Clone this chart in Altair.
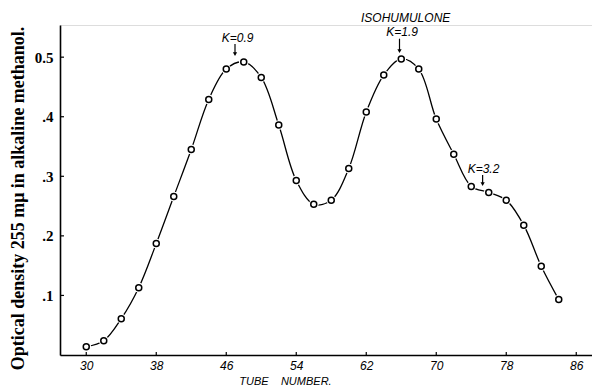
import altair as alt
import pandas as pd

# ---- data ----
tube = [30, 32, 34, 36, 38, 40, 42, 44, 46, 48, 50, 52, 54, 56,
        58, 60, 62, 64, 66, 68, 70, 72, 74, 76, 78, 80, 82, 84]
density = [0.014, 0.024, 0.061, 0.113, 0.187, 0.266, 0.345, 0.429, 0.480, 0.492,
           0.466, 0.386, 0.293, 0.253, 0.260, 0.313, 0.408, 0.470, 0.497, 0.480,
           0.396, 0.337, 0.283, 0.273, 0.260, 0.218, 0.149, 0.093]

x_ticks = [30, 38, 46, 54, 62, 70, 78, 86]
y_ticks = [0.1, 0.2, 0.3, 0.4, 0.5]

ann_text = ["K=0.9", "ISOHUMULONE", "K=1.9", "K=3.2"]
ann_x = [47.3, 66.5, 66.1, 75.4]
ann_y = [0.532, 0.566, 0.542, 0.313]

arrow_x = [47.0, 65.8, 75.3]
arrow_top = [0.522, 0.531, 0.302]
arrow_bot = [0.505, 0.510, 0.287]

df = pd.DataFrame({"tube": tube, "density": density})
ann = pd.DataFrame({"label": ann_text, "x": ann_x, "y": ann_y})
arr = pd.DataFrame({"x": arrow_x, "top": arrow_top, "bot": arrow_bot})
yt = pd.DataFrame({"v": y_ticks})
xt = pd.DataFrame({"v": x_ticks})

xs = alt.Scale(domain=[27.0, 87.8], nice=False, zero=False)
ys = alt.Scale(domain=[0, 0.554], nice=False)

x_axis = alt.Axis(
    values=x_ticks, title="TUBE\u00a0\u00a0\u00a0\u00a0NUMBER.", grid=False, tickSize=0,
    domainColor="black", domainWidth=1.6,
    labelFont="Liberation Sans", labelFontStyle="italic", labelFontSize=12,
    labelColor="black", labelPadding=5,
    titleFont="Liberation Sans", titleFontStyle="italic", titleFontWeight="normal",
    titleFontSize=11, titleColor="black", titleX=225, titleY=26,
    titleBaseline="middle", titleAlign="center",
)
y_axis = alt.Axis(
    values=y_ticks, title="Optical density 255 mμ in alkaline methanol.",
    grid=False, tickSize=0, domainColor="black", domainWidth=1.6,
    labelExpr="datum.value == 0.5 ? '0.5' : '.' + format(round(datum.value*10), 'd')",
    labelFont="Liberation Serif", labelFontSize=15, labelColor="black",
    labelPadding=7, labelFontWeight="bold",
    titleFont="Liberation Serif", titleFontWeight="bold", titleFontSize=18,
    titleColor="black", titleAngle=270, titleX=-42, titleY=173,
    titleBaseline="middle", titleAlign="center",
)

base = alt.Chart(df)

line = base.mark_line(color="black", strokeWidth=1.3, interpolate="catmull-rom").encode(
    x=alt.X("tube:Q", scale=xs, axis=x_axis),
    y=alt.Y("density:Q", scale=ys, axis=y_axis),
)
halo = base.mark_point(shape="circle", filled=True, color="white", size=95, opacity=1).encode(
    x=alt.X("tube:Q", scale=xs), y=alt.Y("density:Q", scale=ys)
)
pts = base.mark_point(shape="circle", filled=False, color="black", size=36,
                      strokeWidth=1.5, opacity=1).encode(
    x=alt.X("tube:Q", scale=xs), y=alt.Y("density:Q", scale=ys)
)

ytick = alt.Chart(yt).mark_rule(color="black", strokeWidth=1.2).encode(
    y=alt.Y("v:Q", scale=ys), x=alt.value(0), x2=alt.value(4)
)
xtick = alt.Chart(xt).mark_rule(color="black", strokeWidth=1.2).encode(
    x=alt.X("v:Q", scale=xs), y=alt.value(327), y2=alt.value(330)
)

texts = alt.Chart(ann).mark_text(
    font="Liberation Sans", fontStyle="italic", fontSize=12, color="black",
    baseline="middle", align="center"
).encode(x=alt.X("x:Q", scale=xs), y=alt.Y("y:Q", scale=ys), text="label:N")

arrow_line = alt.Chart(arr).mark_rule(color="black", strokeWidth=1.2).encode(
    x=alt.X("x:Q", scale=xs), y=alt.Y("top:Q", scale=ys), y2="bot:Q"
)
arrow_head = alt.Chart(arr).mark_point(shape="triangle-down", filled=True, color="black",
                                       size=18, opacity=1).encode(
    x=alt.X("x:Q", scale=xs), y=alt.Y("bot:Q", scale=ys)
)

chart = alt.layer(line, halo, pts, ytick, xtick, texts, arrow_line, arrow_head).properties(
    width=532, height=330,
    autosize=alt.AutoSizeParams(type="none"),
    padding={"left": 52, "top": 17, "right": 0, "bottom": 32},
).configure_view(stroke=None).configure(background="white")

chart.save("out.html", embed_options={"renderer": "svg", "actions": False})
